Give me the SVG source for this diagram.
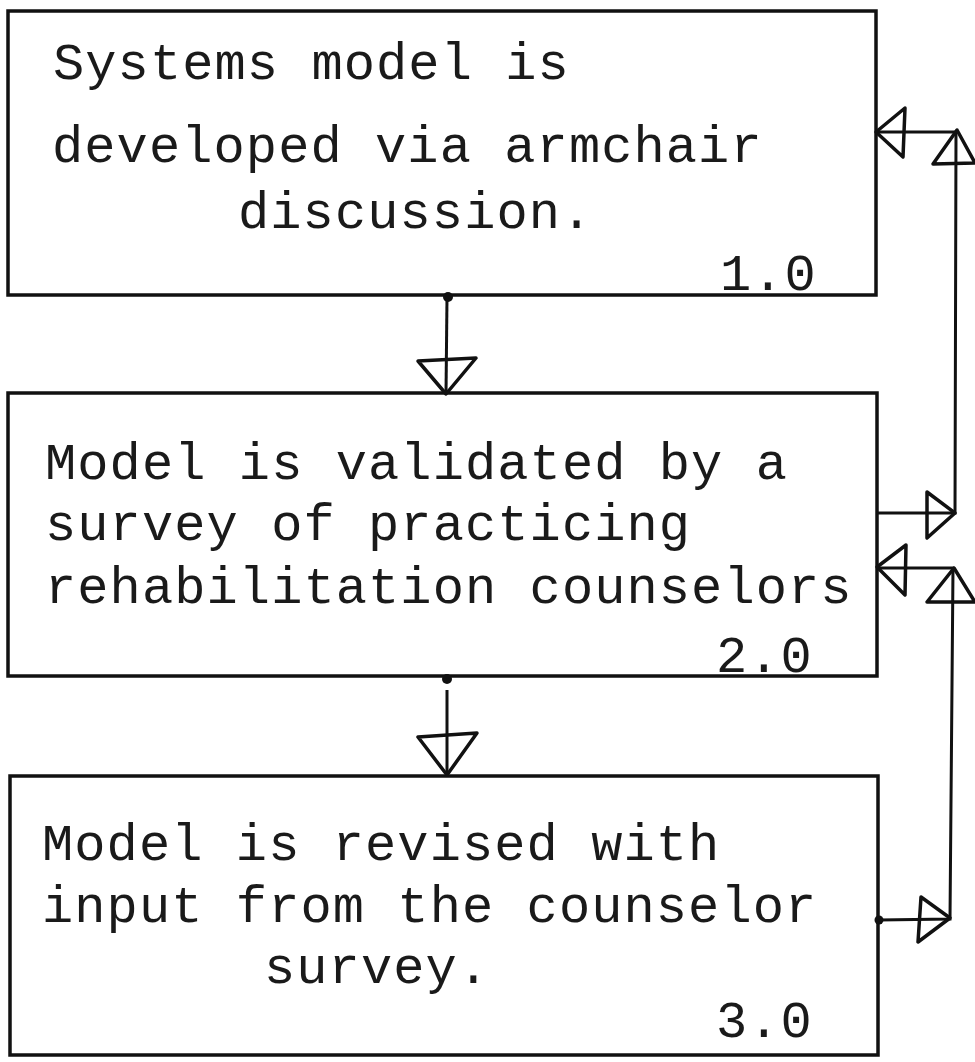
<svg xmlns="http://www.w3.org/2000/svg" width="975" height="1062" viewBox="0 0 975 1062">
<style>
.box{fill:none;stroke:#111;stroke-width:3.5}
.t{font-family:"Liberation Mono","Courier New",monospace;font-size:52px;letter-spacing:1.1px;fill:#1a1a1a}
.ln{fill:none;stroke:#111;stroke-width:3}
.ah{fill:none;stroke:#111;stroke-width:3.5;stroke-linejoin:round}
.dot{fill:#111}
</style>
<rect width="975" height="1062" fill="#fff"/>
<g id="node1">
<rect class="box" x="8" y="11" width="868" height="284"/>
<text class="t" x="53" y="79">Systems model is</text>
<text class="t" x="52" y="162">developed via armchair</text>
<text class="t" x="238" y="228">discussion.</text>
<text class="t" x="720" y="290">1.0</text>
</g>
<g id="node2">
<rect class="box" x="8" y="393" width="869" height="283"/>
<text class="t" x="45" y="479">Model is validated by a</text>
<text class="t" x="45" y="540">survey of practicing</text>
<text class="t" x="45" y="603">rehabilitation counselors</text>
<text class="t" x="716" y="672">2.0</text>
</g>
<g id="node3">
<rect class="box" x="10" y="776" width="868" height="279"/>
<text class="t" x="42" y="860">Model is revised with</text>
<text class="t" x="42" y="922">input from the counselor</text>
<text class="t" x="264" y="983">survey.</text>
<text class="t" x="716" y="1037">3.0</text>
</g>
<g id="connectors">
<circle class="dot" cx="448" cy="297" r="5"/>
<line class="ln" x1="447" y1="297" x2="446" y2="394"/>
<polygon class="ah" points="418,361 476,358 446,394"/>
<circle class="dot" cx="447" cy="679" r="5"/>
<line class="ln" x1="447" y1="690" x2="447" y2="775"/>
<polygon class="ah" points="418,737 477,733 447,775"/>
<polyline class="ln" points="877,513 955,513 956,132 876,132"/>
<polygon class="ah" points="927,492 955,513 927,538"/>
<polygon class="ah" points="957,130 975,163 933,164"/>
<polygon class="ah" points="905,108 876,132 903,157"/>
<circle class="dot" cx="879" cy="920" r="4.5"/>
<polyline class="ln" points="879,920 950,919 953,568 877,568"/>
<polygon class="ah" points="921,897 950,918 918,942"/>
<polygon class="ah" points="954,568 975,602 927,602"/>
<polygon class="ah" points="906,545 877,567 905,595"/>
</g>
</svg>
